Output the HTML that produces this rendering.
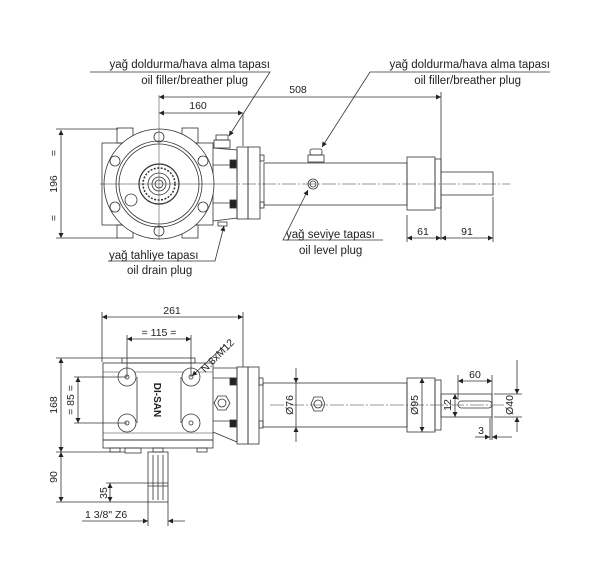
<!DOCTYPE html>
<html><head><style>
html,body{margin:0;padding:0;background:#fff;}
svg{display:block;}
text{font-family:"Liberation Sans",sans-serif;fill:#222;}
</style></head><body>
<svg width="600" height="577" viewBox="0 0 600 577" xmlns="http://www.w3.org/2000/svg">
<defs>
<marker id="a" viewBox="0 0 10 10" refX="10" refY="5" markerWidth="7" markerHeight="5" orient="auto-start-reverse" markerUnits="userSpaceOnUse"><path d="M0,0 L10,5 L0,10 z" fill="#222"/></marker>
</defs>
<g fill="none" stroke="#333" stroke-width="0.8">
<rect x="102" y="143" width="111" height="82"/>
<rect x="117" y="128" width="16" height="15"/><rect x="182" y="128" width="16" height="15"/>
<rect x="117" y="225" width="16" height="13"/><rect x="182" y="225" width="16" height="13"/>
<circle cx="159" cy="184" r="55" fill="#fff"/>
<circle cx="159" cy="184" r="43"/>
<circle cx="159" cy="184" r="40"/>
<circle cx="159" cy="137" r="5"/><circle cx="159" cy="231" r="5"/>
<circle cx="115" cy="161" r="5"/><circle cx="203" cy="161" r="5"/>
<circle cx="115" cy="207" r="5"/><circle cx="203" cy="207" r="5"/>
<circle cx="131" cy="200" r="6"/>
<circle cx="159" cy="184" r="20" stroke-width="1.2"/>
<circle cx="159" cy="184" r="16" stroke-dasharray="2 1.5" stroke-width="1.5"/>
<circle cx="159" cy="184" r="11"/>
<circle cx="159" cy="184" r="7"/>
<circle cx="159" cy="184" r="4"/>
<line x1="100" y1="184" x2="222" y2="184" stroke-width="0.5"/>
<line x1="159" y1="95" x2="159" y2="240" stroke-width="0.5"/>
<path d="M213,148 L237,150 L237,218 L213,221"/>
<line x1="213" y1="165" x2="237" y2="165"/><line x1="213" y1="203" x2="237" y2="203"/>
<rect x="230" y="160" width="6" height="8" fill="#222"/><rect x="230" y="200" width="6" height="8" fill="#222"/>
<rect x="237" y="147" width="11" height="72"/><rect x="248" y="147" width="12" height="72"/>
<rect x="260" y="155" width="4" height="6"/><rect x="260" y="202" width="4" height="6"/>
<rect x="214" y="140" width="16" height="8"/><rect x="216" y="135" width="12" height="5"/>
<rect x="218" y="222" width="9" height="4"/>
<rect x="264" y="163" width="143" height="42"/>
<rect x="308" y="155" width="16" height="7"/><rect x="310" y="149" width="12" height="6" rx="2"/>
<circle cx="313" cy="184" r="5"/><circle cx="313" cy="184" r="3"/>
<rect x="407" y="157" width="28" height="53"/><rect x="435" y="159" width="6" height="49"/>
<rect x="441" y="172" width="52" height="23"/>
<line x1="222" y1="184" x2="510" y2="184" stroke-width="0.5" stroke-dasharray="14 2 2 2"/>
<line x1="159" y1="97" x2="441" y2="97" marker-start="url(#a)" marker-end="url(#a)"/>
<line x1="441" y1="92" x2="441" y2="240"/>
<line x1="159" y1="113" x2="243" y2="113" marker-start="url(#a)" marker-end="url(#a)"/>
<line x1="243" y1="113" x2="243" y2="146"/>
<line x1="61" y1="130" x2="61" y2="238" marker-start="url(#a)" marker-end="url(#a)"/>
<line x1="56" y1="129" x2="118" y2="129"/><line x1="56" y1="238" x2="118" y2="238"/>
<line x1="407" y1="215" x2="407" y2="242"/><line x1="493" y1="197" x2="493" y2="242"/>
<line x1="407" y1="238" x2="441" y2="238" marker-start="url(#a)" marker-end="url(#a)"/>
<line x1="441" y1="238" x2="493" y2="238" marker-start="url(#a)" marker-end="url(#a)"/>
<polyline points="90,72 270,72 229,136" marker-end="url(#a)"/>
<polyline points="550,72 370,72 322,147" marker-end="url(#a)"/>
<polyline points="383,240 283,240 308,190" marker-end="url(#a)"/>
<polyline points="108,261 215,261 224,226" marker-end="url(#a)"/>

<rect x="103" y="363" width="110" height="77"/>
<rect x="122" y="358" width="73" height="5"/>
<line x1="103" y1="372" x2="213" y2="372" stroke-width="0.5"/>
<line x1="103" y1="433" x2="213" y2="433" stroke-width="0.5"/>
<path d="M137,377 L137,423 M181,377 L181,423"/>
<circle cx="127" cy="377" r="9" fill="#fff"/><circle cx="191" cy="377" r="9" fill="#fff"/>
<circle cx="127" cy="423" r="9" fill="#fff"/><circle cx="191" cy="423" r="9" fill="#fff"/>
<circle cx="127" cy="377" r="2"/><circle cx="191" cy="377" r="2"/><circle cx="127" cy="423" r="2"/><circle cx="191" cy="423" r="2"/>
<rect x="103" y="440" width="110" height="8"/>
<rect x="110" y="448" width="10" height="4"/><rect x="125" y="448" width="16" height="5"/><rect x="153" y="448" width="10" height="4"/><rect x="197" y="448" width="10" height="4"/>
<path d="M213,368 L237,368 L237,442 L213,432 M213,378 L237,378 M213,421 L237,421"/>
<rect x="230" y="378" width="6" height="7" fill="#222"/><rect x="230" y="420" width="6" height="7" fill="#222"/>
<rect x="237" y="367" width="11" height="77"/><rect x="248" y="367" width="11" height="77"/>
<rect x="259" y="378" width="4" height="7"/><rect x="259" y="421" width="4" height="7"/>
<polygon points="214,403 218,396 226,396 230,403 226,410 218,410"/><circle cx="222" cy="403" r="4"/>
<rect x="148" y="452" width="20" height="50"/>
<line x1="153" y1="455" x2="153" y2="500"/><line x1="158" y1="455" x2="158" y2="500"/><line x1="163" y1="455" x2="163" y2="500"/>
<line x1="148" y1="483" x2="168" y2="483"/><line x1="148" y1="486" x2="168" y2="486"/>
<rect x="263" y="383" width="144" height="44"/>
<polygon points="311,404 314,397 322,397 325,404 322,411 314,411"/><circle cx="318" cy="404" r="4"/>
<rect x="407" y="378" width="28" height="54"/><rect x="435" y="380" width="6" height="50"/>
<rect x="441" y="394" width="51" height="23"/>
<rect x="458" y="401" width="34" height="7" rx="3.5"/>
<line x1="270" y1="405" x2="505" y2="405" stroke-width="0.5" stroke-dasharray="14 2 2 2"/>
<line x1="102" y1="312" x2="102" y2="362"/><line x1="243" y1="312" x2="243" y2="367"/>
<line x1="102" y1="317" x2="243" y2="317" marker-start="url(#a)" marker-end="url(#a)"/>
<line x1="127" y1="335" x2="127" y2="377"/><line x1="191" y1="335" x2="191" y2="377"/>
<line x1="127" y1="339" x2="191" y2="339" marker-start="url(#a)" marker-end="url(#a)"/>
<line x1="56" y1="358" x2="122" y2="358"/><line x1="56" y1="452" x2="125" y2="452"/><line x1="56" y1="502" x2="148" y2="502"/>
<line x1="61" y1="358" x2="61" y2="452" marker-start="url(#a)" marker-end="url(#a)"/>
<line x1="61" y1="452" x2="61" y2="502" marker-start="url(#a)" marker-end="url(#a)"/>
<line x1="74" y1="377" x2="127" y2="377"/><line x1="74" y1="423" x2="127" y2="423"/>
<line x1="78" y1="377" x2="78" y2="423" marker-start="url(#a)" marker-end="url(#a)"/>
<line x1="106" y1="483" x2="148" y2="483"/>
<line x1="110" y1="483" x2="110" y2="502" marker-start="url(#a)" marker-end="url(#a)"/>
<line x1="148" y1="502" x2="148" y2="526"/><line x1="168" y1="502" x2="168" y2="526"/>
<line x1="82" y1="521" x2="148" y2="521" marker-end="url(#a)"/>
<line x1="185" y1="521" x2="168" y2="521" marker-end="url(#a)"/>
<line x1="225" y1="345" x2="192" y2="376" marker-end="url(#a)"/>
<line x1="296" y1="368" x2="296" y2="383" marker-end="url(#a)"/><line x1="296" y1="442" x2="296" y2="427" marker-end="url(#a)"/><line x1="296" y1="383" x2="296" y2="427"/>
<line x1="422" y1="378" x2="422" y2="432" marker-start="url(#a)" marker-end="url(#a)"/>
<line x1="455" y1="394" x2="455" y2="417" marker-start="url(#a)" marker-end="url(#a)"/>
<line x1="458" y1="375" x2="458" y2="400"/><line x1="492" y1="375" x2="492" y2="440"/><line x1="490" y1="418" x2="490" y2="440"/>
<line x1="458" y1="381" x2="492" y2="381" marker-start="url(#a)" marker-end="url(#a)"/>
<line x1="494" y1="394" x2="522" y2="394"/><line x1="494" y1="417" x2="522" y2="417"/>
<line x1="517" y1="360" x2="517" y2="394" marker-end="url(#a)"/><line x1="517" y1="432" x2="517" y2="417" marker-end="url(#a)"/>
<line x1="475" y1="437" x2="490" y2="437" marker-end="url(#a)"/><line x1="512" y1="437" x2="492" y2="437" marker-end="url(#a)"/>
</g>
<g font-size="10.5">
<text x="270" y="68" text-anchor="end" font-size="11.5">yağ doldurma/hava alma tapası</text>
<text x="248" y="84" text-anchor="end" font-size="11.5">oil filler/breather plug</text>
<text x="550" y="68" text-anchor="end" font-size="11.5">yağ doldurma/hava alma tapası</text>
<text x="521" y="84" text-anchor="end" font-size="11.5">oil filler/breather plug</text>
<text x="286" y="238" font-size="11.5">yağ seviye tapası</text>
<text x="299" y="254" font-size="11.5">oil level plug</text>
<text x="109" y="259" font-size="11.5">yağ tahliye tapası</text>
<text x="127" y="274" font-size="11.5">oil drain plug</text>
<text x="298" y="93" text-anchor="middle">508</text>
<text x="198" y="109" text-anchor="middle">160</text>
<text x="423" y="235" text-anchor="middle">61</text>
<text x="467" y="235" text-anchor="middle">91</text>
<text transform="translate(57,184) rotate(-90)" text-anchor="middle">196</text>
<text transform="translate(57,153) rotate(-90)" text-anchor="middle">=</text>
<text transform="translate(57,218) rotate(-90)" text-anchor="middle">=</text>
<text x="172" y="314" text-anchor="middle">261</text>
<text x="159" y="336" text-anchor="middle">= 115 =</text>
<text transform="translate(57,405) rotate(-90)" text-anchor="middle">168</text>
<text transform="translate(74,400) rotate(-90)" text-anchor="middle">= 85 =</text>
<text transform="translate(57,477) rotate(-90)" text-anchor="middle">90</text>
<text transform="translate(107,493) rotate(-90)" text-anchor="middle">35</text>
<text x="85" y="518">1 3/8" Z6</text>
<text transform="translate(205,373) rotate(-45)">N.8xM12</text>
<text transform="translate(293,405) rotate(-90)" text-anchor="middle">Ø76</text>
<text transform="translate(418,405) rotate(-90)" text-anchor="middle">Ø95</text>
<text transform="translate(451,405) rotate(-90)" text-anchor="middle">12</text>
<text x="475" y="378" text-anchor="middle">60</text>
<text transform="translate(513,405) rotate(-90)" text-anchor="middle">Ø40</text>
<text x="481" y="434" text-anchor="middle">3</text>
<text transform="translate(154,400) rotate(90)" text-anchor="middle" font-weight="bold" font-size="10">DI-SAN</text>
</g>
</svg>
</body></html>
